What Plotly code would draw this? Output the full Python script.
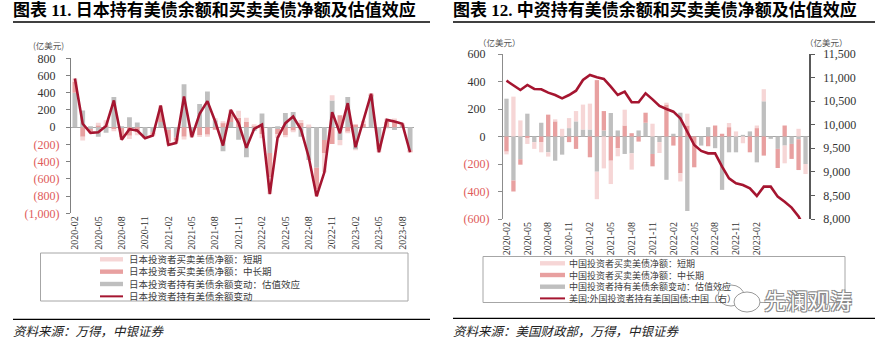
import plotly.graph_objects as go

W, H = 880, 346

# ---------------- data ----------------
months = [
    "2020-02", "2020-03", "2020-04", "2020-05", "2020-06", "2020-07", "2020-08", "2020-09",
    "2020-10", "2020-11", "2020-12", "2021-01", "2021-02", "2021-03", "2021-04", "2021-05",
    "2021-06", "2021-07", "2021-08", "2021-09", "2021-10", "2021-11", "2021-12", "2022-01",
    "2022-02", "2022-03", "2022-04", "2022-05", "2022-06", "2022-07", "2022-08", "2022-09",
    "2022-10", "2022-11", "2022-12", "2023-01", "2023-02", "2023-03", "2023-04", "2023-05",
    "2023-06", "2023-07", "2023-08", "2023-09",
]

jp_ticks = ["2020-02", "2020-05", "2020-08", "2020-11", "2021-02", "2021-05", "2021-08", "2021-11",
            "2022-02", "2022-05", "2022-08", "2022-11", "2023-02", "2023-05", "2023-08"]
cn_ticks = ["2020-02", "2020-05", "2020-08", "2020-11", "2021-02", "2021-05", "2021-08", "2021-11",
            "2022-02", "2022-05", "2022-08", "2022-11", "2023-02"]

# Japan (亿美元)
jp_valuation = [400, 195, -20, -110, -65, 350, -10, 115, 55, -110, -60, 60, -30, -120, 500, -70,
                270, 415, 80, -280, 60, -145, -350, -45, 160, -300, -20, 165, 175, -110, -380, -470,
                -150, 310, -150, 350, -260, 0, 370, -180, -12, -34, 20, -270]
jp_long = [130, -110, -30, 20, 20, -25, -110, -100, -60, -10, -25, 120, -140, -40, -110, -30,
           -90, -90, -30, 50, 90, 110, 60, 16, -80, -280, -60, -90, -40, 50, 10, -250,
           -150, -195, 140, -55, 30, 40, 10, -80, 60, 70, 12, -20]
jp_short = [35, -45, -16, 32, 60, -15, -27, -38, -34, -8, -12, 72, -36, -22, -33, -16,
            -25, -22, 16, 17, 52, 82, 50, 10, -49, -196, -44, -28, -11, 33, 21, -83,
            -224, 60, -60, -16, -3, 38, 8, -31, 37, 30, 7, -1]
jp_change = [565, 40, -66, -58, 15, 310, -147, -23, -39, -128, -97, 252, -206, -182, 357, -116,
             155, 303, 66, -213, 202, 47, -240, -19, 31, -776, -124, 47, 124, -27, -349, -803,
             -524, 175, -70, 279, -233, 78, 388, -291, 85, 66, 39, -291]

# China (亿美元)
cn_valuation = [275, -320, -165, 166, -41, 100, -115, -176, -132, 61, 110, 51, 51, -256, 44, 171,
                44, -127, -122, 44, 100, -127, -41, -315, 20, 173, -542, 0, -66, 68, -85, -388,
                -115, -115, 12, 37, -188, 256, -17, -90, -66, -54, -20, -200]
cn_long = [-110, -80, -40, -10, 0, -40, 159, 110, 0, -41, -90, 0, -151, 410, 141, -176,
           -85, 80, 24, -37, 73, -90, 0, 232, -66, -268, 80, -224, 0, -71, 80, 20,
           68, 0, 0, -115, 61, -139, 0, -139, 80, -109, -224, 0]
cn_short = [-20, 290, 117, -44, -49, -75, -31, 15, 56, 73, 75, 181, 188, -200, -232, -170,
            -59, 115, -119, 0, 0, 93, -79, 14, 0, -59, 86, 0, 0, 0, 0, 0,
            30, 37, -49, 0, 19, 88, 0, 0, -129, 0, 56, -73]
cn_holdings = [10934, 10843, 10736, 10843, 10758, 10751, 10680, 10630, 10560, 10630, 10722, 10949,
               11055, 11005, 10970, 10807, 10630, 10701, 10475, 10475, 10666, 10538, 10397, 10333,
               10277, 10135, 9839, 9570, 9443, 9393, 9393, 9110, 8863, 8757, 8721, 8651,
               8489, 8686, 8686, 8474, 8368, 8241, 8054, 7781]

jp_yticks = [800, 600, 400, 200, 0, -200, -400, -600, -800, -1000]
cn_yticks = [600, 400, 200, 0, -200, -400, -600]
cn_rticks = [11500, 11000, 10500, 10000, 9500, 9000, 8500, 8000]

jp_names = ["日本投资者买卖美债净额：短期", "日本投资者买卖美债净额：中长期",
            "日本投资者持有美债余额变动：估值效应", "日本投资者持有美债余额变动"]
cn_names = ["中国投资者买卖美债净额：短期", "中国投资者买卖美债净额：中长期",
            "中国投资者持有美债余额变动：估值效应", "美国:外国投资者持有美国国债:中国（右）"]

# ---------------- styles ----------------
C_LIGHT = "#f6d6d6"
C_PINK = "#e8a0a0"
C_GRAY = "#bfbfbf"
C_LINE = "#a51530"
C_NEG = "#e05a5a"
C_TXT = "#333333"
SERIF = "Liberation Serif, Noto Sans CJK SC"
CJK = "Noto Sans CJK SC"


def px(x):
    return x / W


def py(y):
    return 1 - y / H


def fmt(v):
    s = f"{abs(v):,}"
    if v < 0:
        return f"<span style='color:{C_NEG}'>({s})</span>"
    return s + "<span style='color:rgba(0,0,0,0)'>)</span>"


fig = go.Figure()

# Japan chart
for vals, col in [(jp_valuation, C_GRAY), (jp_long, C_PINK), (jp_short, C_LIGHT)]:
    fig.add_trace(go.Bar(x=months, y=vals, width=0.62, marker=dict(color=col, line_width=0),
                         xaxis="x", yaxis="y"))
fig.add_trace(go.Scatter(x=months, y=jp_change, mode="lines", line=dict(color=C_LINE, width=2.6),
                         xaxis="x", yaxis="y"))

# China chart
for vals, col in [(cn_valuation, C_GRAY), (cn_long, C_PINK), (cn_short, C_LIGHT)]:
    fig.add_trace(go.Bar(x=months, y=vals, width=0.62, marker=dict(color=col, line_width=0),
                         xaxis="x2", yaxis="y2"))
fig.add_trace(go.Scatter(x=months, y=cn_holdings, mode="lines", line=dict(color=C_LINE, width=2.6),
                         xaxis="x2", yaxis="y3"))

xcommon = dict(type="category", range=[-0.5, 43.5], tickangle=-90, showline=False, showgrid=False,
               ticks="", zeroline=False, automargin=False,
               tickfont=dict(family=SERIF, size=10, color=C_TXT))
ycommon = dict(showgrid=False, showline=True, ticks="outside", ticklen=4, automargin=False,
               tickfont=dict(family=SERIF, size=12, color=C_TXT))

fig.update_layout(
    width=W, height=H, autosize=False,
    margin=dict(l=0, r=0, t=0, b=0, pad=0),
    paper_bgcolor="white", plot_bgcolor="rgba(0,0,0,0)",
    barmode="relative", showlegend=False,
    xaxis=dict(domain=[px(71), px(414)], anchor="y", tickvals=jp_ticks, ticktext=jp_ticks, **xcommon),
    yaxis=dict(domain=[py(213.3), py(58.3)], anchor="x", range=[-1000, 800],
               tickvals=jp_yticks, ticktext=[fmt(v) for v in jp_yticks],
               linecolor="#808080", tickcolor="#808080", ticklabelstandoff=4,
               zeroline=True, zerolinecolor="#a6a6a6", zerolinewidth=1, **ycommon),
    xaxis2=dict(domain=[px(503), px(809)], anchor="y2", tickvals=cn_ticks, ticktext=cn_ticks, **xcommon),
    yaxis2=dict(domain=[py(219), py(54)], anchor="x2", range=[-600, 600],
                tickvals=cn_yticks, ticktext=[fmt(v) for v in cn_yticks],
                linecolor="#8c8c8c", tickcolor="#8c8c8c", ticklabelstandoff=6,
                zeroline=True, zerolinecolor="#a6a6a6", zerolinewidth=1, **ycommon),
    yaxis3=dict(domain=[py(219), py(54)], anchor="x2", overlaying="y2", side="right",
                range=[8000, 11500], tickvals=cn_rticks, ticktext=[f"{v:,}" for v in cn_rticks],
                linecolor="#595959", linewidth=1.5, tickcolor="#595959", ticklabelstandoff=6,
                zeroline=False, **ycommon),
)

shapes = []
annotations = []


def text(x, y, s, size, family=CJK, color=C_TXT, xanchor="left", **kw):
    annotations.append(dict(xref="paper", yref="paper", x=px(x), y=py(y), text=s, showarrow=False,
                            xanchor=xanchor, yanchor="middle", align="left",
                            font=dict(family=family, size=size, color=color, **kw), borderpad=0))


def hline(x0, x1, y, width=1.3, color="black"):
    shapes.append(dict(type="line", xref="paper", yref="paper", x0=px(x0), x1=px(x1), y0=py(y), y1=py(y),
                       line=dict(color=color, width=width)))


def rect(x0, y0, x1, y1, fill=None, line=None, lw=1):
    shapes.append(dict(type="rect", xref="paper", yref="paper", x0=px(x0), x1=px(x1), y0=py(y1), y1=py(y0),
                       fillcolor=fill or "rgba(0,0,0,0)",
                       line=dict(color=line or "rgba(0,0,0,0)", width=lw if line else 0)))


# titles
text(12, 10, "<b>图表 11. 日本持有美债余额和买卖美债净额及估值效应</b>", 17, family=SERIF, color="black")
text(452, 10, "<b>图表 12. 中资持有美债余额和买卖美债净额及估值效应</b>", 17, family=SERIF, color="black")
hline(13, 430, 22, 1.5)
hline(453, 875, 22, 1.5)

# units
text(48, 44.5, "(亿美元)", 8.5, xanchor="center", color="#555555")
text(499, 42, "（亿美元）", 8.5, xanchor="center", color="#555555")
text(826, 42, "（亿美元）", 8.5, xanchor="center", color="#555555")

# legend boxes: symbols as shapes, labels as one multi-line block per chart
rect(40.5, 253, 408, 301, line="#a6a6a6")
rect(483, 256.5, 845, 302.5, line="#a6a6a6")
sym_cols = [C_LIGHT, C_PINK, C_GRAY]

for names, first_row, size, sx0, sx1, tx in [(jp_names, 259.3, 9.5, 100, 123, 128),
                                              (cn_names, 263.3, 9.0, 540, 565, 568)]:
    step = 1.3 * size
    rows = [first_row + k * step for k in range(4)]
    for i, yy in enumerate(rows):
        if i < 3:
            rect(sx0, yy - 2.2, sx1, yy + 2.2, fill=sym_cols[i])
        else:
            hline(sx0, sx1, yy, 2, C_LINE)
    text(tx, (rows[0] + rows[-1]) / 2, "<br>".join(names), size, color="#404040")

# sources
hline(13, 430, 319.3, 1.3)
hline(453, 875, 318.3, 1.3)
text(12, 330, "<i>资料来源：万得，中银证券</i>", 12.5, color="#222222")
text(452, 330, "<i>资料来源：美国财政部，万得，中银证券</i>", 12.5, color="#222222")

# account mark
shapes.append(dict(type="circle", xref="paper", yref="paper", x0=px(718), x1=px(744), y0=py(306), y1=py(285),
                   fillcolor="white", line=dict(color="#9a9a9a", width=1)))
shapes.append(dict(type="circle", xref="paper", yref="paper", x0=px(734), x1=px(760), y0=py(312), y1=py(292),
                   fillcolor="white", line=dict(color="#9a9a9a", width=1)))
text(808, 299, "先澜观涛", 22, color="white",
     shadow="-1px -1px 0 #8a8a8a, 1px -1px 0 #8a8a8a, -1px 1px 0 #8a8a8a, 1px 1px 0 #8a8a8a",
     xanchor="center")

fig.update_layout(shapes=shapes, annotations=annotations)
fig.write_html("out.html")
